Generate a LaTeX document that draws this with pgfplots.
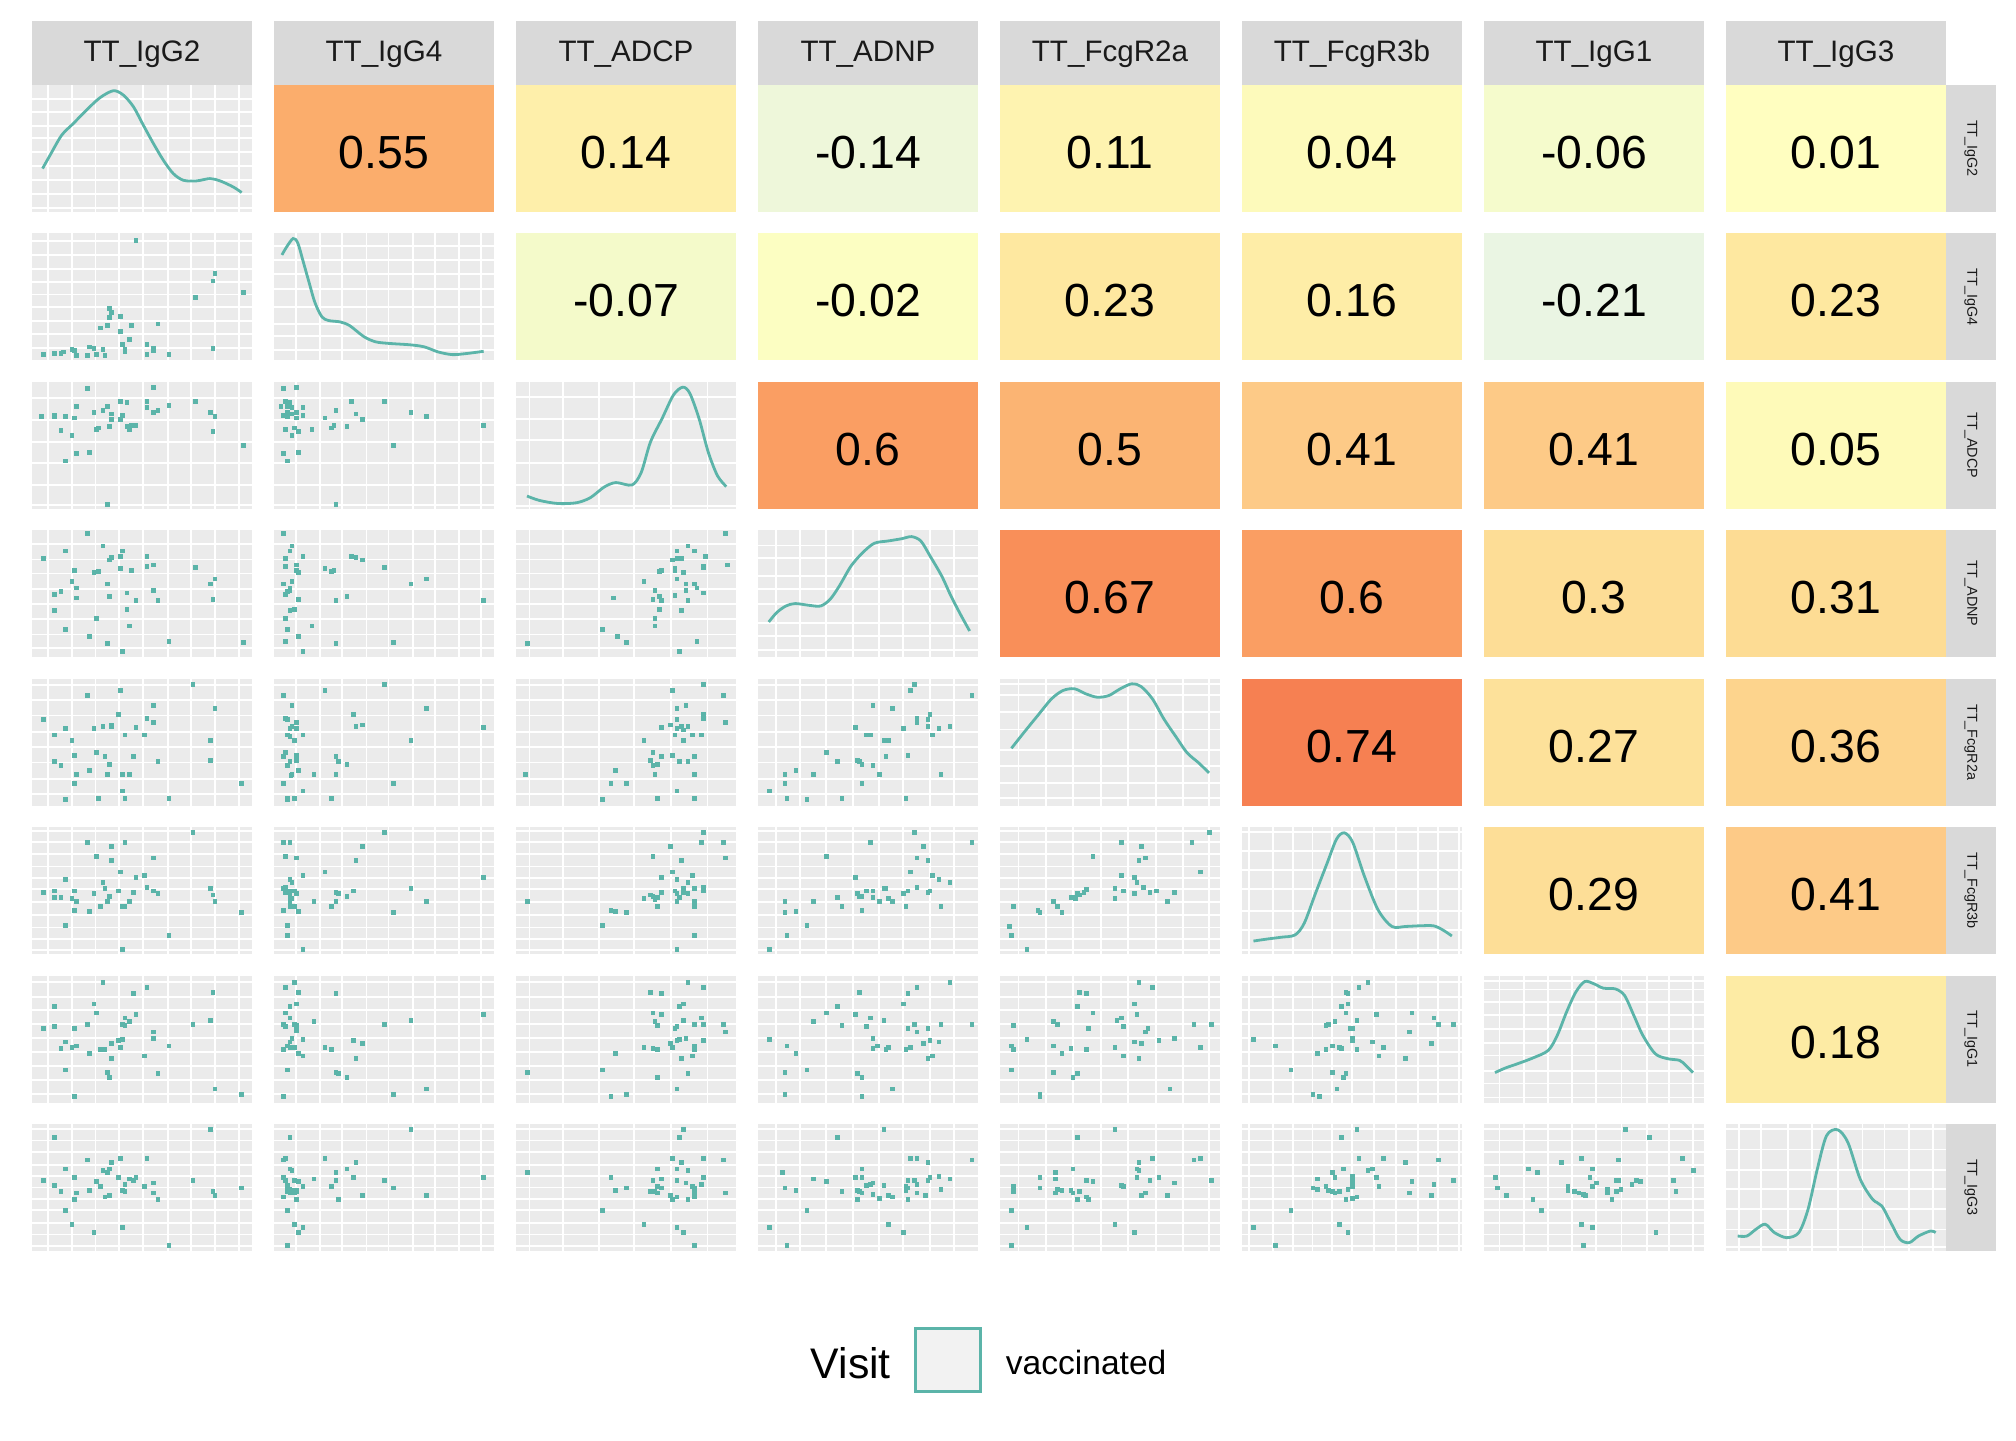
\documentclass[border=0pt]{standalone}
\usepackage{pgfplots}
\pgfplotsset{compat=1.18}
\usepackage{fontspec}
\setmainfont{Liberation Sans}
\definecolor{teal1}{RGB}{91,180,169}
\definecolor{pbg}{RGB}{235,235,235}
\definecolor{stripc}{RGB}{217,217,217}
\definecolor{txt}{RGB}{26,26,26}
\pgfplotsset{
 base/.style={scale only axis, width=55pt, height=31.75pt, xmin=0, xmax=1, ymin=0, ymax=1, anchor=north west},
 panel/.style={base, axis line style={draw=none}, tick style={draw=none}, major tick length=0pt, xticklabels={}, yticklabels={}, axis background/.style={fill=pbg}, grid=major, major grid style={white, line width=0.45pt}},
 tile/.style={base, hide axis},
 pts/.style={only marks, color=teal1, mark=square*, mark size=0.47pt, mark options={fill=teal1, draw=teal1, line width=0.01pt}},
 dens/.style={color=teal1, line width=0.7pt, smooth, no marks},
 cx1/.style={xtick={0.071,0.182,0.289,0.395,0.505,0.617,0.723,0.833,0.942}},
 cx2/.style={xtick={0.10,0.21,0.31,0.42,0.52,0.63,0.73,0.84,0.94}},
 cx3/.style={xtick={0.061,0.212,0.376,0.538,0.706,0.870}},
 cx4/.style={xtick={0.08,0.19,0.31,0.43,0.55,0.66,0.78,0.89}},
 cx5/.style={xtick={0.084,0.21,0.33,0.46,0.58,0.71,0.83,0.95}},
 cx6/.style={xtick={0.03,0.14,0.23,0.32,0.41,0.50,0.60,0.70,0.80,0.89,0.985}},
 cx7/.style={xtick={0.07,0.18,0.29,0.40,0.51,0.625,0.74,0.84,0.95}},
 cx8/.style={xtick={0.06,0.16,0.28,0.39,0.51,0.62,0.72,0.83,0.94}},
 ry2/.style={ytick={0.10,0.21,0.31,0.42,0.52,0.62,0.72,0.83,0.94}},
 ry3/.style={ytick={0.03,0.19,0.36,0.525,0.70,0.87}},
 ry4/.style={ytick={0.07,0.18,0.30,0.42,0.54,0.66,0.77,0.89}},
 ry5/.style={ytick={0.09,0.21,0.34,0.46,0.58,0.71,0.83,0.95}},
 ry6/.style={ytick={0.03,0.12,0.21,0.31,0.41,0.51,0.60,0.69,0.79,0.88,0.97}},
 ry7/.style={ytick={0.07,0.18,0.29,0.40,0.51,0.62,0.73,0.83,0.95}},
 ry8/.style={ytick={0.04,0.13,0.22,0.32,0.41,0.50,0.59,0.68,0.78,0.87,0.96}},
 dy1/.style={ytick={0.03,0.14,0.25,0.36,0.47,0.58,0.68,0.79,0.89}},
 dy2/.style={ytick={0.08,0.19,0.29,0.42,0.56,0.68,0.79,0.90}},
 dy3/.style={ytick={0.02,0.19,0.36,0.54,0.71,0.88}},
 dy4/.style={ytick={0.06,0.17,0.27,0.42,0.54,0.64,0.78,0.88}},
 dy5/.style={ytick={0.06,0.18,0.31,0.44,0.60,0.74,0.87,0.96}},
 dy6/.style={ytick={0.03,0.19,0.34,0.51,0.66,0.81,0.96}},
 dy7/.style={ytick={0.04,0.15,0.25,0.37,0.47,0.58,0.69,0.79,0.89,0.96}},
 dy8/.style={ytick={0.03,0.17,0.33,0.49,0.64,0.80,0.96}},
}
\newcommand\scp[5]{\begin{axis}[panel,at={(#1pt,#2pt)},#3,#4]\addplot[pts] coordinates {#5};\end{axis}}
\newcommand\dgp[5]{\begin{axis}[panel,at={(#1pt,#2pt)},#3,#4]\addplot[dens] coordinates {#5};\end{axis}}
\newcommand\tlp[4]{\begin{axis}[tile,at={(#1pt,#2pt)}]\addplot[fill={#3},draw=none] coordinates {(0,1) (1,1)} \closedcycle;\node[text=black,font=\fontsize{11.6}{13}\selectfont] at (axis cs:0.5,0.47) {#4};\end{axis}}
\begin{document}
\begin{tikzpicture}
\path[use as bounding box] (0pt,0pt) rectangle (504pt,360pt);
% ---------- row 1
\dgp{8}{338.75}{cx1}{dy1}{(0.048,0.342)(0.082,0.447)(0.135,0.605)(0.188,0.697)(0.248,0.803)(0.309,0.900)(0.370,0.955)(0.415,0.921)(0.461,0.829)(0.506,0.684)(0.552,0.539)(0.597,0.408)(0.642,0.303)(0.688,0.250)(0.748,0.245)(0.809,0.263)(0.855,0.245)(0.915,0.197)(0.953,0.153)}
\tlp{68.5}{338.75}{rgb,255:red,251;green,173;blue,108}{0.55}
\tlp{129}{338.75}{rgb,255:red,254;green,239;blue,170}{0.14}
\tlp{189.5}{338.75}{rgb,255:red,238;green,247;blue,218}{-0.14}
\tlp{250}{338.75}{rgb,255:red,254;green,243;blue,176}{0.11}
\tlp{310.5}{338.75}{rgb,255:red,253;green,250;blue,187}{0.04}
\tlp{371}{338.75}{rgb,255:red,245;green,251;blue,204}{-0.06}
\tlp{431.5}{338.75}{rgb,255:red,255;green,254;blue,192}{0.01}
% ---------- row 2
\scp{8}{301.64}{cx1}{ry2}{(0.47,0.95)(0.83,0.69)(0.82,0.63)(0.96,0.54)(0.74,0.50)(0.35,0.41)(0.36,0.38)(0.35,0.34)(0.40,0.35)(0.31,0.26)(0.34,0.28)(0.45,0.28)(0.57,0.29)(0.40,0.23)(0.44,0.17)(0.41,0.13)(0.52,0.13)(0.55,0.10)(0.42,0.09)(0.42,0.07)(0.82,0.10)(0.05,0.05)(0.10,0.06)(0.13,0.06)(0.14,0.07)(0.18,0.09)(0.19,0.08)(0.20,0.04)(0.25,0.04)(0.26,0.11)(0.28,0.10)(0.29,0.05)(0.32,0.09)(0.33,0.04)(0.52,0.05)(0.55,0.08)(0.62,0.05)}
\dgp{68.5}{301.64}{cx2}{dy2}{(0.036,0.831)(0.059,0.898)(0.087,0.960)(0.108,0.925)(0.133,0.777)(0.159,0.617)(0.186,0.456)(0.218,0.343)(0.249,0.314)(0.302,0.303)(0.345,0.273)(0.408,0.188)(0.461,0.147)(0.524,0.134)(0.619,0.123)(0.683,0.107)(0.746,0.067)(0.810,0.046)(0.873,0.054)(0.953,0.072)}
\tlp{129}{301.64}{rgb,255:red,244;green,250;blue,202}{-0.07}
\tlp{189.5}{301.64}{rgb,255:red,252;green,254;blue,194}{-0.02}
\tlp{250}{301.64}{rgb,255:red,254;green,232;blue,160}{0.23}
\tlp{310.5}{301.64}{rgb,255:red,254;green,237;blue,167}{0.16}
\tlp{371}{301.64}{rgb,255:red,234;green,245;blue,227}{-0.21}
\tlp{431.5}{301.64}{rgb,255:red,254;green,232;blue,160}{0.23}
% ---------- row 3
\scp{8}{264.54}{cx1}{ry3}{(0.25,0.95)(0.55,0.96)(0.40,0.85)(0.43,0.84)(0.52,0.85)(0.62,0.82)(0.74,0.85)(0.20,0.81)(0.28,0.76)(0.32,0.78)(0.34,0.81)(0.52,0.80)(0.55,0.76)(0.57,0.78)(0.04,0.73)(0.10,0.73)(0.10,0.74)(0.15,0.73)(0.19,0.72)(0.36,0.75)(0.36,0.71)(0.40,0.71)(0.41,0.74)(0.81,0.76)(0.83,0.73)(0.13,0.62)(0.18,0.58)(0.29,0.63)(0.30,0.64)(0.35,0.65)(0.43,0.65)(0.44,0.63)(0.45,0.66)(0.47,0.66)(0.82,0.61)(0.96,0.50)(0.20,0.44)(0.26,0.45)(0.15,0.38)(0.34,0.04)}
\scp{68.5}{264.54}{cx2}{ry3}{(0.04,0.95)(0.10,0.96)(0.05,0.85)(0.07,0.84)(0.06,0.81)(0.08,0.80)(0.03,0.81)(0.06,0.76)(0.04,0.74)(0.06,0.73)(0.08,0.75)(0.10,0.76)(0.13,0.80)(0.13,0.74)(0.10,0.72)(0.35,0.85)(0.50,0.85)(0.28,0.78)(0.37,0.75)(0.40,0.71)(0.23,0.72)(0.27,0.66)(0.26,0.64)(0.33,0.65)(0.62,0.76)(0.69,0.73)(0.95,0.66)(0.05,0.63)(0.09,0.64)(0.11,0.61)(0.08,0.58)(0.17,0.63)(0.54,0.50)(0.04,0.44)(0.11,0.45)(0.06,0.38)(0.28,0.04)}
\dgp{129}{264.54}{cx3}{dy3}{(0.050,0.101)(0.107,0.066)(0.191,0.042)(0.275,0.048)(0.338,0.088)(0.401,0.172)(0.454,0.207)(0.527,0.188)(0.569,0.286)(0.611,0.525)(0.664,0.711)(0.716,0.897)(0.758,0.958)(0.790,0.910)(0.832,0.711)(0.874,0.446)(0.916,0.260)(0.956,0.175)}
\tlp{189.5}{264.54}{rgb,255:red,250;green,158;blue,99}{0.6}
\tlp{250}{264.54}{rgb,255:red,251;green,180;blue,115}{0.5}
\tlp{310.5}{264.54}{rgb,255:red,253;green,202;blue,135}{0.41}
\tlp{371}{264.54}{rgb,255:red,253;green,202;blue,135}{0.41}
\tlp{431.5}{264.54}{rgb,255:red,254;green,250;blue,185}{0.05}
% ---------- row 4
\scp{8}{227.43}{cx1}{ry4}{(0.25,0.98)(0.05,0.78)(0.15,0.84)(0.32,0.88)(0.41,0.84)(0.40,0.80)(0.36,0.79)(0.35,0.77)(0.52,0.80)(0.52,0.72)(0.55,0.73)(0.19,0.69)(0.30,0.68)(0.28,0.67)(0.40,0.70)(0.45,0.69)(0.74,0.71)(0.18,0.60)(0.34,0.58)(0.20,0.55)(0.83,0.62)(0.81,0.58)(0.13,0.52)(0.10,0.50)(0.20,0.47)(0.35,0.48)(0.43,0.51)(0.47,0.45)(0.55,0.53)(0.57,0.45)(0.82,0.46)(0.10,0.37)(0.43,0.38)(0.29,0.31)(0.44,0.25)(0.15,0.22)(0.26,0.17)(0.34,0.11)(0.62,0.13)(0.96,0.12)(0.41,0.05)}
\scp{68.5}{227.43}{cx2}{ry4}{(0.04,0.98)(0.08,0.88)(0.07,0.84)(0.05,0.78)(0.13,0.80)(0.05,0.72)(0.10,0.73)(0.10,0.69)(0.11,0.67)(0.23,0.70)(0.26,0.68)(0.27,0.69)(0.35,0.80)(0.37,0.79)(0.40,0.77)(0.50,0.71)(0.04,0.58)(0.08,0.60)(0.07,0.55)(0.07,0.53)(0.06,0.52)(0.05,0.50)(0.11,0.46)(0.28,0.45)(0.33,0.48)(0.62,0.58)(0.69,0.62)(0.95,0.45)(0.07,0.37)(0.09,0.38)(0.05,0.31)(0.17,0.25)(0.06,0.22)(0.11,0.17)(0.05,0.13)(0.28,0.11)(0.54,0.12)(0.13,0.05)}
\scp{129}{227.43}{cx3}{ry4}{(0.95,0.98)(0.78,0.88)(0.73,0.84)(0.81,0.84)(0.86,0.80)(0.71,0.77)(0.73,0.78)(0.75,0.78)(0.96,0.73)(0.85,0.72)(0.85,0.71)(0.65,0.68)(0.66,0.69)(0.72,0.70)(0.72,0.69)(0.76,0.67)(0.58,0.60)(0.73,0.62)(0.63,0.53)(0.77,0.58)(0.72,0.49)(0.77,0.53)(0.81,0.58)(0.82,0.55)(0.85,0.51)(0.62,0.46)(0.65,0.48)(0.66,0.45)(0.44,0.47)(0.78,0.45)(0.65,0.38)(0.75,0.37)(0.63,0.31)(0.63,0.25)(0.39,0.22)(0.46,0.17)(0.50,0.12)(0.82,0.13)(0.05,0.11)(0.74,0.05)}
\dgp{189.5}{227.43}{cx4}{dy4}{(0.049,0.278)(0.085,0.352)(0.127,0.404)(0.169,0.423)(0.233,0.409)(0.285,0.404)(0.328,0.457)(0.370,0.562)(0.423,0.719)(0.476,0.824)(0.529,0.898)(0.592,0.916)(0.655,0.934)(0.698,0.950)(0.740,0.916)(0.782,0.798)(0.835,0.640)(0.877,0.483)(0.920,0.339)(0.962,0.207)}
\tlp{250}{227.43}{rgb,255:red,249;green,143;blue,89}{0.67}
\tlp{310.5}{227.43}{rgb,255:red,250;green,158;blue,99}{0.6}
\tlp{371}{227.43}{rgb,255:red,253;green,221;blue,150}{0.3}
\tlp{431.5}{227.43}{rgb,255:red,253;green,220;blue,148}{0.31}
% ---------- row 5
\scp{8}{190.32}{cx1}{ry5}{(0.73,0.96)(0.40,0.91)(0.25,0.87)(0.55,0.79)(0.83,0.77)(0.39,0.72)(0.05,0.68)(0.52,0.69)(0.55,0.66)(0.36,0.64)(0.32,0.63)(0.28,0.61)(0.15,0.61)(0.47,0.62)(0.36,0.63)(0.10,0.56)(0.42,0.56)(0.51,0.56)(0.18,0.52)(0.81,0.52)(0.19,0.40)(0.29,0.42)(0.33,0.39)(0.46,0.39)(0.10,0.35)(0.35,0.33)(0.57,0.35)(0.81,0.36)(0.13,0.32)(0.26,0.28)(0.20,0.25)(0.34,0.25)(0.41,0.25)(0.44,0.25)(0.19,0.18)(0.95,0.18)(0.41,0.12)(0.15,0.05)(0.30,0.06)(0.42,0.06)(0.62,0.06)}
\scp{68.5}{190.32}{cx2}{ry5}{(0.50,0.96)(0.23,0.91)(0.04,0.87)(0.08,0.79)(0.69,0.77)(0.36,0.72)(0.05,0.69)(0.06,0.68)(0.10,0.66)(0.40,0.64)(0.37,0.63)(0.95,0.62)(0.08,0.63)(0.10,0.61)(0.07,0.61)(0.06,0.56)(0.07,0.55)(0.13,0.56)(0.09,0.52)(0.62,0.52)(0.05,0.42)(0.04,0.39)(0.10,0.40)(0.28,0.39)(0.07,0.35)(0.10,0.36)(0.29,0.35)(0.33,0.33)(0.06,0.32)(0.11,0.28)(0.08,0.25)(0.075,0.24)(0.18,0.25)(0.28,0.25)(0.04,0.18)(0.54,0.18)(0.13,0.12)(0.06,0.06)(0.06,0.05)(0.09,0.06)(0.26,0.06)}
\scp{129}{190.32}{cx3}{ry5}{(0.85,0.96)(0.71,0.91)(0.94,0.87)(0.77,0.79)(0.73,0.77)(0.85,0.72)(0.85,0.69)(0.73,0.68)(0.95,0.66)(0.70,0.64)(0.66,0.62)(0.73,0.61)(0.75,0.63)(0.78,0.63)(0.76,0.60)(0.72,0.56)(0.80,0.56)(0.84,0.56)(0.76,0.52)(0.58,0.52)(0.62,0.42)(0.66,0.39)(0.71,0.40)(0.81,0.39)(0.61,0.36)(0.64,0.33)(0.62,0.32)(0.74,0.35)(0.78,0.35)(0.45,0.28)(0.63,0.25)(0.81,0.25)(0.04,0.25)(0.43,0.18)(0.50,0.18)(0.73,0.12)(0.39,0.05)(0.64,0.06)(0.81,0.06)}
\scp{189.5}{190.32}{cx4}{ry5}{(0.71,0.96)(0.69,0.91)(0.97,0.87)(0.52,0.79)(0.61,0.77)(0.78,0.72)(0.72,0.69)(0.77,0.68)(0.72,0.66)(0.77,0.63)(0.82,0.61)(0.87,0.63)(0.66,0.61)(0.44,0.62)(0.79,0.56)(0.49,0.56)(0.51,0.56)(0.57,0.52)(0.59,0.52)(0.31,0.42)(0.58,0.39)(0.68,0.40)(0.36,0.35)(0.45,0.36)(0.46,0.35)(0.47,0.33)(0.52,0.32)(0.12,0.25)(0.17,0.28)(0.25,0.25)(0.55,0.25)(0.83,0.25)(0.12,0.18)(0.47,0.18)(0.05,0.12)(0.13,0.06)(0.22,0.05)(0.38,0.06)(0.67,0.06)}
\dgp{250}{190.32}{cx5}{dy5}{(0.052,0.452)(0.109,0.577)(0.171,0.709)(0.234,0.841)(0.286,0.907)(0.338,0.921)(0.390,0.881)(0.443,0.854)(0.495,0.868)(0.547,0.921)(0.599,0.960)(0.641,0.939)(0.693,0.841)(0.745,0.683)(0.797,0.550)(0.850,0.418)(0.902,0.339)(0.950,0.259)}
\tlp{310.5}{190.32}{rgb,255:red,246;green,128;blue,82}{0.74}
\tlp{371}{190.32}{rgb,255:red,253;green,225;blue,154}{0.27}
\tlp{431.5}{190.32}{rgb,255:red,253;green,212;blue,141}{0.36}
% ---------- row 6
\scp{8}{153.22}{cx1}{ry6}{(0.73,0.96)(0.25,0.88)(0.42,0.88)(0.36,0.85)(0.29,0.77)(0.36,0.74)(0.55,0.76)(0.40,0.65)(0.47,0.61)(0.51,0.62)(0.15,0.59)(0.32,0.57)(0.33,0.52)(0.10,0.50)(0.19,0.50)(0.05,0.49)(0.28,0.48)(0.39,0.50)(0.46,0.49)(0.52,0.53)(0.55,0.50)(0.57,0.48)(0.81,0.52)(0.82,0.47)(0.10,0.45)(0.13,0.45)(0.18,0.44)(0.35,0.46)(0.20,0.42)(0.44,0.42)(0.83,0.42)(0.34,0.42)(0.31,0.38)(0.41,0.38)(0.42,0.38)(0.19,0.35)(0.26,0.34)(0.95,0.33)(0.15,0.23)(0.62,0.15)(0.41,0.04)}
\scp{68.5}{153.22}{cx2}{ry6}{(0.50,0.96)(0.04,0.88)(0.07,0.88)(0.40,0.85)(0.05,0.77)(0.10,0.76)(0.37,0.74)(0.23,0.65)(0.13,0.62)(0.95,0.61)(0.07,0.59)(0.08,0.57)(0.62,0.52)(0.05,0.53)(0.04,0.52)(0.07,0.50)(0.09,0.50)(0.10,0.48)(0.05,0.49)(0.07,0.47)(0.28,0.49)(0.29,0.48)(0.36,0.50)(0.07,0.45)(0.08,0.44)(0.33,0.46)(0.18,0.42)(0.69,0.42)(0.07,0.42)(0.07,0.38)(0.09,0.38)(0.26,0.38)(0.28,0.42)(0.04,0.35)(0.11,0.34)(0.54,0.33)(0.06,0.23)(0.06,0.15)(0.13,0.04)}
\scp{129}{153.22}{cx3}{ry6}{(0.85,0.96)(0.70,0.85)(0.84,0.88)(0.94,0.88)(0.62,0.77)(0.75,0.74)(0.95,0.76)(0.71,0.65)(0.66,0.61)(0.80,0.62)(0.73,0.59)(0.78,0.57)(0.76,0.52)(0.85,0.53)(0.85,0.50)(0.81,0.52)(0.76,0.49)(0.78,0.48)(0.72,0.50)(0.73,0.48)(0.58,0.44)(0.61,0.47)(0.62,0.46)(0.64,0.45)(0.66,0.49)(0.63,0.43)(0.74,0.45)(0.64,0.38)(0.73,0.42)(0.81,0.42)(0.81,0.38)(0.05,0.42)(0.43,0.35)(0.45,0.34)(0.50,0.33)(0.39,0.23)(0.81,0.15)(0.73,0.04)}
\scp{189.5}{153.22}{cx4}{ry6}{(0.71,0.96)(0.97,0.88)(0.51,0.88)(0.75,0.85)(0.31,0.77)(0.72,0.76)(0.77,0.74)(0.69,0.65)(0.79,0.62)(0.82,0.59)(0.87,0.57)(0.44,0.61)(0.72,0.53)(0.78,0.50)(0.66,0.48)(0.68,0.50)(0.77,0.49)(0.57,0.52)(0.58,0.52)(0.49,0.50)(0.52,0.50)(0.45,0.48)(0.46,0.46)(0.47,0.46)(0.36,0.45)(0.52,0.45)(0.59,0.44)(0.61,0.42)(0.55,0.42)(0.25,0.42)(0.12,0.42)(0.38,0.38)(0.67,0.38)(0.83,0.38)(0.47,0.35)(0.12,0.33)(0.17,0.34)(0.22,0.23)(0.13,0.15)(0.05,0.04)}
\scp{250}{153.22}{cx5}{ry6}{(0.95,0.96)(0.87,0.88)(0.55,0.88)(0.64,0.85)(0.42,0.77)(0.63,0.74)(0.66,0.76)(0.91,0.65)(0.55,0.62)(0.61,0.61)(0.62,0.57)(0.06,0.38)(0.04,0.22)(0.05,0.15)(0.12,0.04)(0.17,0.35)(0.18,0.33)(0.24,0.42)(0.26,0.38)(0.28,0.33)(0.32,0.45)(0.33,0.45)(0.34,0.44)(0.35,0.48)(0.36,0.47)(0.38,0.49)(0.39,0.51)(0.52,0.44)(0.52,0.52)(0.56,0.50)(0.61,0.48)(0.65,0.53)(0.68,0.49)(0.71,0.50)(0.76,0.42)(0.79,0.49)}
\dgp{310.5}{153.22}{cx6}{dy6}{(0.052,0.103)(0.115,0.119)(0.178,0.133)(0.241,0.151)(0.283,0.244)(0.335,0.483)(0.388,0.721)(0.430,0.907)(0.465,0.955)(0.503,0.881)(0.556,0.615)(0.618,0.350)(0.681,0.218)(0.744,0.218)(0.807,0.223)(0.870,0.223)(0.912,0.191)(0.954,0.143)}
\tlp{371}{153.22}{rgb,255:red,253;green,222;blue,151}{0.29}
\tlp{431.5}{153.22}{rgb,255:red,253;green,202;blue,135}{0.41}
% ---------- row 7
\scp{8}{116.11}{cx1}{ry7}{(0.32,0.95)(0.52,0.91)(0.46,0.86)(0.82,0.87)(0.10,0.76)(0.28,0.78)(0.29,0.71)(0.47,0.70)(0.42,0.67)(0.44,0.64)(0.41,0.62)(0.42,0.61)(0.81,0.65)(0.73,0.62)(0.25,0.62)(0.05,0.59)(0.10,0.60)(0.19,0.59)(0.55,0.56)(0.55,0.51)(0.41,0.50)(0.39,0.49)(0.15,0.48)(0.18,0.44)(0.20,0.45)(0.13,0.43)(0.36,0.47)(0.31,0.42)(0.33,0.42)(0.62,0.45)(0.40,0.44)(0.26,0.39)(0.36,0.35)(0.51,0.37)(0.15,0.26)(0.34,0.24)(0.35,0.20)(0.57,0.23)(0.83,0.11)(0.95,0.07)(0.19,0.05)}
\scp{68.5}{116.11}{cx2}{ry7}{(0.09,0.95)(0.05,0.91)(0.11,0.87)(0.28,0.86)(0.07,0.76)(0.10,0.78)(0.05,0.71)(0.07,0.67)(0.18,0.64)(0.62,0.65)(0.95,0.70)(0.50,0.62)(0.04,0.62)(0.05,0.60)(0.09,0.62)(0.10,0.61)(0.10,0.59)(0.10,0.57)(0.08,0.51)(0.13,0.50)(0.07,0.48)(0.06,0.45)(0.07,0.44)(0.09,0.44)(0.04,0.42)(0.23,0.44)(0.26,0.42)(0.36,0.49)(0.40,0.47)(0.11,0.39)(0.13,0.37)(0.37,0.35)(0.06,0.26)(0.28,0.24)(0.29,0.23)(0.33,0.20)(0.54,0.07)(0.69,0.11)(0.04,0.05)}
\scp{129}{116.11}{cx3}{ry7}{(0.78,0.95)(0.85,0.91)(0.61,0.87)(0.66,0.86)(0.74,0.76)(0.76,0.78)(0.62,0.71)(0.66,0.70)(0.84,0.67)(0.63,0.64)(0.64,0.61)(0.76,0.65)(0.81,0.62)(0.85,0.62)(0.94,0.62)(0.95,0.56)(0.72,0.59)(0.73,0.60)(0.77,0.51)(0.73,0.49)(0.74,0.50)(0.85,0.49)(0.70,0.47)(0.71,0.44)(0.58,0.44)(0.62,0.43)(0.64,0.42)(0.81,0.45)(0.81,0.42)(0.80,0.37)(0.75,0.35)(0.45,0.39)(0.78,0.23)(0.39,0.26)(0.64,0.20)(0.05,0.24)(0.73,0.11)(0.50,0.07)(0.43,0.05)}
\scp{189.5}{116.11}{cx4}{ry7}{(0.87,0.95)(0.72,0.91)(0.68,0.86)(0.46,0.87)(0.66,0.78)(0.36,0.76)(0.31,0.71)(0.44,0.70)(0.51,0.67)(0.57,0.65)(0.25,0.64)(0.38,0.61)(0.49,0.60)(0.68,0.59)(0.71,0.62)(0.72,0.56)(0.77,0.59)(0.83,0.62)(0.97,0.62)(0.52,0.51)(0.05,0.50)(0.78,0.49)(0.82,0.48)(0.75,0.47)(0.13,0.45)(0.54,0.45)(0.52,0.43)(0.58,0.42)(0.59,0.44)(0.67,0.42)(0.69,0.44)(0.17,0.39)(0.79,0.37)(0.77,0.35)(0.22,0.26)(0.12,0.24)(0.45,0.23)(0.47,0.20)(0.61,0.11)(0.12,0.07)(0.47,0.05)}
\scp{250}{116.11}{cx5}{ry7}{(0.63,0.95)(0.69,0.91)(0.36,0.87)(0.39,0.86)(0.35,0.76)(0.61,0.78)(0.42,0.71)(0.62,0.70)(0.24,0.64)(0.26,0.62)(0.53,0.65)(0.55,0.67)(0.56,0.60)(0.40,0.59)(0.67,0.59)(0.66,0.56)(0.06,0.61)(0.88,0.62)(0.96,0.62)(0.12,0.50)(0.79,0.51)(0.72,0.49)(0.61,0.48)(0.64,0.47)(0.05,0.45)(0.06,0.42)(0.24,0.45)(0.32,0.43)(0.39,0.42)(0.52,0.44)(0.28,0.39)(0.56,0.37)(0.63,0.35)(0.91,0.44)(0.05,0.26)(0.24,0.24)(0.35,0.23)(0.33,0.20)(0.77,0.11)(0.18,0.07)(0.18,0.05)}
\scp{310.5}{116.11}{cx6}{ry7}{(0.57,0.95)(0.53,0.91)(0.47,0.87)(0.48,0.86)(0.48,0.78)(0.45,0.76)(0.47,0.71)(0.61,0.70)(0.77,0.71)(0.87,0.67)(0.42,0.64)(0.52,0.65)(0.39,0.62)(0.38,0.61)(0.49,0.59)(0.50,0.59)(0.89,0.62)(0.96,0.62)(0.76,0.56)(0.50,0.51)(0.50,0.49)(0.05,0.50)(0.59,0.48)(0.15,0.45)(0.38,0.42)(0.41,0.45)(0.44,0.44)(0.45,0.43)(0.52,0.42)(0.64,0.44)(0.34,0.39)(0.62,0.37)(0.86,0.47)(0.74,0.35)(0.22,0.26)(0.41,0.24)(0.47,0.23)(0.46,0.20)(0.43,0.11)(0.32,0.07)(0.35,0.05)}
\dgp{371}{116.11}{cx7}{dy7}{(0.050,0.236)(0.097,0.272)(0.153,0.306)(0.222,0.351)(0.292,0.411)(0.333,0.529)(0.375,0.712)(0.417,0.869)(0.458,0.953)(0.500,0.935)(0.542,0.901)(0.597,0.895)(0.639,0.843)(0.681,0.686)(0.722,0.529)(0.778,0.385)(0.833,0.346)(0.889,0.332)(0.917,0.293)(0.950,0.236)}
\tlp{431.5}{116.11}{rgb,255:red,253;green,235;blue,164}{0.18}
% ---------- row 8
\scp{8}{79}{cx1}{ry8}{(0.81,0.96)(0.10,0.90)(0.25,0.72)(0.40,0.73)(0.52,0.73)(0.36,0.70)(0.15,0.65)(0.32,0.64)(0.35,0.65)(0.34,0.62)(0.05,0.56)(0.19,0.58)(0.29,0.55)(0.39,0.58)(0.44,0.57)(0.46,0.56)(0.47,0.58)(0.73,0.56)(0.10,0.52)(0.31,0.51)(0.42,0.53)(0.55,0.54)(0.13,0.47)(0.20,0.46)(0.26,0.48)(0.41,0.48)(0.42,0.47)(0.35,0.44)(0.33,0.43)(0.55,0.46)(0.82,0.47)(0.83,0.44)(0.95,0.50)(0.19,0.41)(0.57,0.41)(0.51,0.51)(0.15,0.32)(0.18,0.21)(0.41,0.19)(0.28,0.15)(0.62,0.05)}
\scp{68.5}{79}{cx2}{ry8}{(0.62,0.96)(0.07,0.90)(0.04,0.72)(0.05,0.73)(0.23,0.73)(0.37,0.70)(0.07,0.65)(0.08,0.64)(0.28,0.62)(0.33,0.65)(0.04,0.58)(0.05,0.56)(0.11,0.55)(0.09,0.56)(0.18,0.57)(0.28,0.56)(0.36,0.58)(0.50,0.56)(0.95,0.58)(0.06,0.52)(0.13,0.51)(0.06,0.50)(0.07,0.49)(0.08,0.48)(0.10,0.48)(0.06,0.47)(0.07,0.46)(0.09,0.46)(0.10,0.47)(0.26,0.51)(0.54,0.50)(0.04,0.43)(0.10,0.41)(0.29,0.41)(0.40,0.44)(0.69,0.44)(0.06,0.32)(0.09,0.21)(0.13,0.19)(0.11,0.15)(0.06,0.05)}
\scp{129}{79}{cx3}{ry8}{(0.76,0.96)(0.74,0.90)(0.71,0.73)(0.75,0.70)(0.85,0.73)(0.94,0.72)(0.64,0.65)(0.73,0.65)(0.78,0.64)(0.05,0.62)(0.85,0.58)(0.66,0.57)(0.62,0.56)(0.73,0.56)(0.43,0.58)(0.84,0.53)(0.77,0.54)(0.80,0.51)(0.64,0.51)(0.81,0.50)(0.81,0.47)(0.81,0.44)(0.81,0.43)(0.61,0.47)(0.63,0.47)(0.64,0.46)(0.66,0.50)(0.45,0.48)(0.50,0.50)(0.95,0.46)(0.70,0.44)(0.71,0.41)(0.73,0.43)(0.78,0.41)(0.39,0.32)(0.58,0.21)(0.73,0.19)(0.76,0.15)(0.81,0.05)}
\scp{189.5}{79}{cx4}{ry8}{(0.57,0.96)(0.36,0.90)(0.69,0.73)(0.72,0.73)(0.77,0.70)(0.97,0.72)(0.47,0.65)(0.82,0.59)(0.87,0.57)(0.11,0.62)(0.25,0.57)(0.31,0.55)(0.44,0.58)(0.47,0.58)(0.52,0.54)(0.51,0.53)(0.49,0.52)(0.57,0.52)(0.68,0.56)(0.71,0.56)(0.77,0.56)(0.78,0.58)(0.67,0.51)(0.72,0.53)(0.12,0.50)(0.17,0.48)(0.38,0.47)(0.45,0.48)(0.46,0.47)(0.47,0.46)(0.52,0.45)(0.55,0.42)(0.59,0.44)(0.61,0.43)(0.67,0.48)(0.68,0.50)(0.72,0.46)(0.76,0.44)(0.83,0.49)(0.45,0.41)(0.68,0.41)(0.22,0.32)(0.05,0.19)(0.59,0.21)(0.66,0.15)(0.13,0.05)}
\scp{250}{79}{cx5}{ry8}{(0.52,0.96)(0.35,0.90)(0.69,0.73)(0.63,0.70)(0.33,0.65)(0.62,0.65)(0.63,0.64)(0.88,0.72)(0.91,0.73)(0.25,0.62)(0.18,0.58)(0.25,0.57)(0.39,0.56)(0.42,0.55)(0.62,0.58)(0.68,0.56)(0.72,0.58)(0.79,0.54)(0.96,0.56)(0.06,0.51)(0.06,0.47)(0.18,0.50)(0.26,0.49)(0.28,0.48)(0.32,0.48)(0.25,0.46)(0.36,0.47)(0.33,0.46)(0.55,0.52)(0.56,0.51)(0.66,0.46)(0.64,0.44)(0.76,0.44)(0.35,0.41)(0.39,0.43)(0.40,0.41)(0.05,0.32)(0.12,0.19)(0.52,0.21)(0.61,0.15)(0.05,0.05)}
\scp{310.5}{79}{cx6}{ry8}{(0.52,0.96)(0.45,0.90)(0.53,0.73)(0.64,0.73)(0.74,0.70)(0.89,0.72)(0.41,0.62)(0.46,0.65)(0.57,0.64)(0.59,0.65)(0.34,0.57)(0.42,0.58)(0.50,0.59)(0.50,0.55)(0.61,0.58)(0.77,0.55)(0.96,0.56)(0.87,0.53)(0.32,0.50)(0.34,0.49)(0.38,0.51)(0.39,0.48)(0.41,0.47)(0.42,0.46)(0.44,0.47)(0.48,0.49)(0.50,0.51)(0.62,0.51)(0.47,0.41)(0.50,0.42)(0.52,0.43)(0.76,0.46)(0.86,0.44)(0.22,0.32)(0.05,0.19)(0.44,0.21)(0.48,0.15)(0.15,0.05)}
\scp{371}{79}{cx7}{ry8}{(0.64,0.96)(0.75,0.90)(0.90,0.73)(0.44,0.73)(0.35,0.70)(0.20,0.65)(0.24,0.62)(0.49,0.65)(0.61,0.72)(0.95,0.64)(0.05,0.58)(0.48,0.58)(0.51,0.54)(0.60,0.56)(0.61,0.56)(0.67,0.53)(0.69,0.56)(0.71,0.55)(0.86,0.56)(0.06,0.50)(0.38,0.51)(0.38,0.48)(0.41,0.47)(0.43,0.46)(0.45,0.45)(0.46,0.44)(0.49,0.51)(0.56,0.46)(0.60,0.47)(0.56,0.49)(0.62,0.49)(0.87,0.47)(0.10,0.44)(0.22,0.41)(0.58,0.41)(0.26,0.32)(0.44,0.21)(0.49,0.19)(0.78,0.15)(0.45,0.05)}
\dgp{431.5}{79}{cx8}{dy8}{(0.053,0.118)(0.095,0.118)(0.136,0.171)(0.178,0.211)(0.220,0.145)(0.276,0.105)(0.331,0.145)(0.373,0.329)(0.415,0.645)(0.457,0.908)(0.507,0.955)(0.554,0.855)(0.610,0.566)(0.666,0.408)(0.708,0.355)(0.749,0.224)(0.791,0.092)(0.833,0.066)(0.875,0.118)(0.930,0.158)(0.953,0.145)}
% ---------- strips and legend
\begin{scope}[x=1pt,y=1pt]
\foreach \cx/\lab in {8/TT\_IgG2,68.5/TT\_IgG4,129/TT\_ADCP,189.5/TT\_ADNP,250/TT\_FcgR2a,310.5/TT\_FcgR3b,371/TT\_IgG1,431.5/TT\_IgG3}{
  \fill[stripc] (\cx,338.75) rectangle ++(55,16);
  \node[text=txt,font=\fontsize{7.4}{9}\selectfont,inner sep=0] at (\cx+27.5,346.5) {\lab};
}
\foreach \ry/\lab in {338.75/TT\_IgG2,301.64/TT\_IgG4,264.54/TT\_ADCP,227.43/TT\_ADNP,190.32/TT\_FcgR2a,153.22/TT\_FcgR3b,116.11/TT\_IgG1,79/TT\_IgG3}{
  \fill[stripc] (486.5,\ry) rectangle ++(12.5,-31.75);
  \node[text=txt,font=\fontsize{3.6}{4.5}\selectfont,inner sep=0,rotate=-90] at (492.75,\ry-15.875) {\lab};
}
\node[anchor=base west,inner sep=0,font=\fontsize{10.7}{12}\selectfont] at (202.5,15.5) {Visit};
\draw[teal1,line width=0.8pt,fill={rgb,255:red,242;green,242;blue,242}] (228.9,12.2) rectangle (245.1,27.8);
\node[anchor=base west,inner sep=0,font=\fontsize{8.4}{10}\selectfont] at (251.25,16.5) {vaccinated};
\end{scope}
\end{tikzpicture}
\end{document}
